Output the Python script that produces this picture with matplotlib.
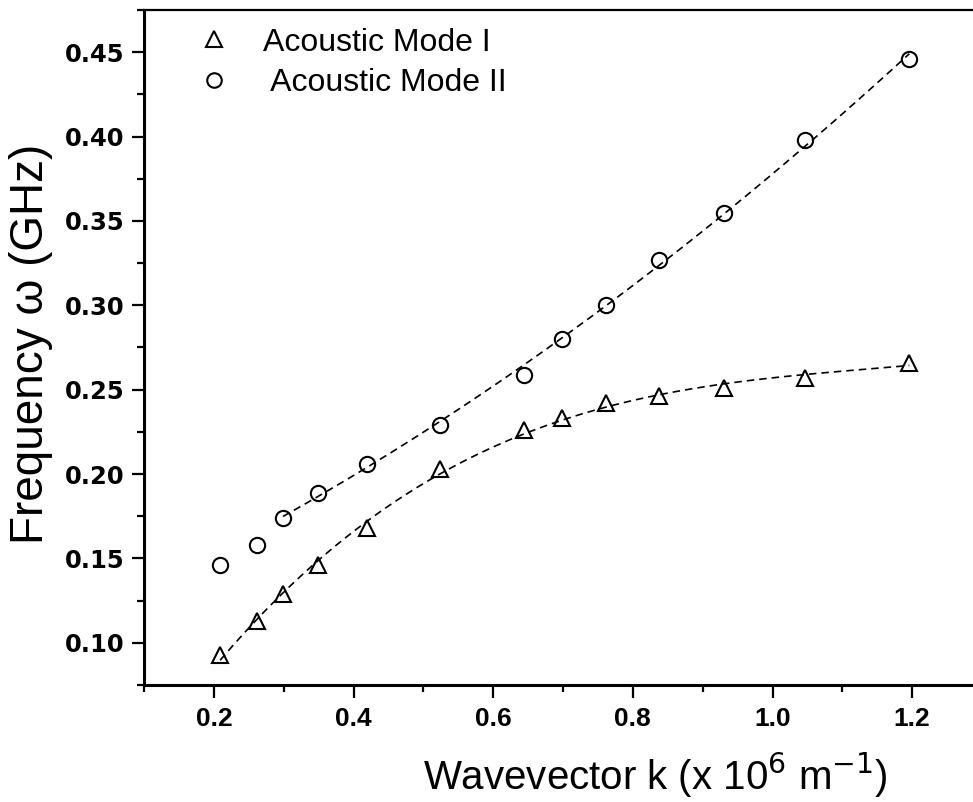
import numpy as np
import matplotlib
matplotlib.use("Agg")
import matplotlib.pyplot as plt
from matplotlib.ticker import MultipleLocator, FormatStrFormatter

# wavevector k (x 10^6 m^-1)
k_vals = [0.209, 0.262, 0.299, 0.349, 0.419, 0.524, 0.644,
          0.698, 0.761, 0.838, 0.931, 1.047, 1.196]

# frequencies (GHz)
mode_1 = [0.093, 0.113, 0.129, 0.146, 0.168, 0.203, 0.226,
          0.233, 0.242, 0.246, 0.251, 0.257, 0.266]
mode_2 = [0.146, 0.158, 0.174, 0.189, 0.206, 0.229, 0.259,
          0.280, 0.300, 0.327, 0.355, 0.398, 0.446]

legend_labels = ["Acoustic Mode I", " Acoustic Mode II"]

plt.rcParams['font.family'] = ['Liberation Sans', 'DejaVu Sans']

fig = plt.figure(figsize=(9.73, 8.02), dpi=100)
ax = fig.add_axes([144/973, 117/802, 838/973, 675/802])

k = np.array(k_vals)
w1 = np.array(mode_1)
w2 = np.array(mode_2)

# dashed fit curves (fitted to the points)
p1 = np.polyfit(k, w1, 3)
kk1 = np.linspace(k[0], k[-1], 200)
ax.plot(kk1, np.polyval(p1, kk1), color='black', lw=1.2, linestyle=(0, (4.5, 3)))

p2 = np.polyfit(k[2:], w2[2:], 2)
kk2 = np.linspace(k[2], k[-1], 200)
ax.plot(kk2, np.polyval(p2, kk2), color='black', lw=1.2, linestyle=(0, (4.5, 3)))

ax.plot(k, w1, linestyle='none', marker='^', markersize=12, markerfacecolor='none',
        markeredgecolor='black', markeredgewidth=1.5, label=legend_labels[0])
ax.plot(k, w2, linestyle='none', marker='o', markersize=11, markerfacecolor='none',
        markeredgecolor='black', markeredgewidth=1.5, label=legend_labels[1])

ax.set_xlim(0.1, 1.3)
ax.set_ylim(0.075, 0.475)

ax.xaxis.set_major_locator(MultipleLocator(0.2))
ax.xaxis.set_minor_locator(MultipleLocator(0.1))
ax.yaxis.set_major_locator(MultipleLocator(0.05))
ax.yaxis.set_minor_locator(MultipleLocator(0.025))
ax.xaxis.set_major_formatter(FormatStrFormatter('%.1f'))
ax.yaxis.set_major_formatter(FormatStrFormatter('%.2f'))

ax.tick_params(which='major', direction='out', length=9, width=1.6, top=False, right=False)
ax.tick_params(which='minor', direction='out', length=5, width=1.6, top=False, right=False)
ax.tick_params(axis='x', pad=7)
ax.tick_params(axis='y', pad=5)

for lab in ax.get_xticklabels():
    lab.set_fontweight('bold')
    lab.set_fontsize(19)
for lab in ax.get_yticklabels():
    lab.set_fontfamily('DejaVu Sans')
    lab.set_fontweight('bold')
    lab.set_fontsize(17.5)

ax.spines['left'].set_linewidth(2.2)
ax.spines['bottom'].set_linewidth(2.2)
ax.spines['top'].set_linewidth(1.6)
ax.spines['right'].set_visible(False)

ax.set_xlabel(r"Wavevector k (x 10$^{6}$ m$^{-1}$)", fontsize=29)
ax.xaxis.set_label_coords(0.61, -0.097, transform=ax.transAxes)
ax.set_ylabel("Frequency ω (GHz)", fontsize=33)
ax.yaxis.set_label_coords(-0.108, 0.505, transform=ax.transAxes)

leg = ax.legend(loc='upper left', bbox_to_anchor=(0.03, 0.993), frameon=False,
                fontsize=23, handletextpad=0.55, labelspacing=0.32, borderaxespad=0.0,
                markerscale=0.95)

fig.savefig("out.png", dpi=100)
